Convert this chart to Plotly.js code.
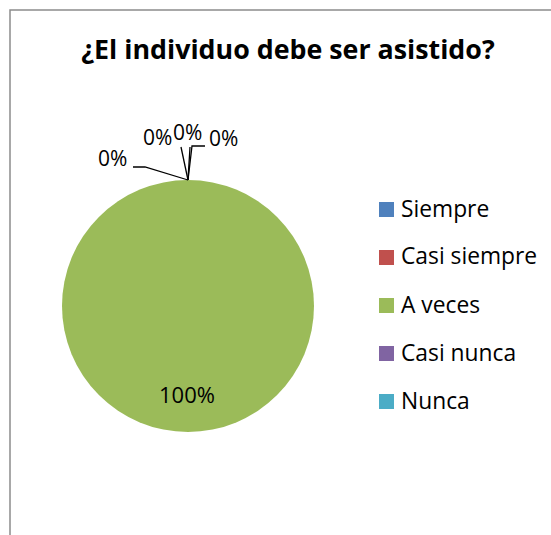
<!DOCTYPE html>
<html>
<head>
<meta charset="utf-8">
<script src="https://cdn.plot.ly/plotly-3.0.1.min.js"></script>
<style>html,body{margin:0;padding:0;background:#fff;}#chart{width:551px;height:535px;}</style>
</head>
<body>
<div id="chart"></div>
<script>
const chartTitle = '¿El individuo debe ser asistido?';
const categories = ['Siempre', 'Casi siempre', 'A veces', 'Casi nunca', 'Nunca'];
const values = [0, 0, 100, 0, 0];
const colors = ['#4F81BD', '#C0504D', '#9BBB59', '#8064A2', '#4BACC6'];

const W = 551, H = 535;
const FONT = '"Open Sans", "Noto Sans", sans-serif';
const px = x => x / W;
const py = y => 1 - y / H;

// pie geometry (pixels)
const pieLeft = 62, pieRight = 314, pieTop = 180, pieBottom = 432;
const cx = (pieLeft + pieRight) / 2, r = (pieRight - pieLeft) / 2;

const total = values.reduce((a, b) => a + b, 0);
const pct = v => Math.round(v / total * 100) + '%';

const data = [{
  type: 'pie',
  labels: categories,
  values: values,
  marker: {colors: colors, line: {width: 0}},
  sort: false,
  direction: 'clockwise',
  rotation: 0,
  textinfo: 'none',
  hoverinfo: 'label+percent',
  showlegend: false,
  domain: {x: [px(pieLeft), px(pieRight)], y: [py(pieBottom), py(pieTop)]}
}];

const annotations = [];
const shapes = [];

// outer chart frame
shapes.push({type: 'rect', xref: 'paper', yref: 'paper', x0: px(10), x1: 1.2, y0: -0.2, y1: py(10),
  line: {color: '#8c8c8c', width: 1.5}, fillcolor: 'rgba(0,0,0,0)', layer: 'below'});

// zero-slice labels with leader lines (outside, at top of pie)
const apex = [cx, pieTop];
const zeroLabelSpots = [
  {pos: [112, 158], path: [[133, 167], [145, 167]]},
  {pos: [157.5, 137], path: [[181, 147]]},
  {pos: [187, 132], path: [[190, 147]]},
  {pos: [223, 138], path: [[205, 146], [192, 146]]}
];
let zi = 0;
values.forEach((v, i) => {
  if (v / total >= 0.5) {
    annotations.push({xref: 'paper', yref: 'paper', x: px(cx - 1), y: py(394), text: pct(v),
      showarrow: false, xanchor: 'center', yanchor: 'middle', font: {family: FONT, size: 22, color: '#000'}});
  } else if (zi < zeroLabelSpots.length) {
    const s = zeroLabelSpots[zi++];
    annotations.push({xref: 'paper', yref: 'paper', x: px(s.pos[0]), y: py(s.pos[1]), text: pct(v),
      showarrow: false, xanchor: 'center', yanchor: 'middle', font: {family: FONT, size: 21, color: '#000'}});
    const pts = s.path.concat([apex]);
    const d = pts.map((p, k) => (k ? 'L' : 'M') + px(p[0]).toFixed(5) + ',' + py(p[1]).toFixed(5)).join(' ');
    shapes.push({type: 'path', xref: 'paper', yref: 'paper', path: d, line: {color: '#000', width: 1.3}});
  }
});

// legend
const legX = 379, legY0 = 209.5, legStep = 48, sw = 15;
categories.forEach((c, i) => {
  const yc = legY0 + i * legStep;
  shapes.push({type: 'rect', xref: 'paper', yref: 'paper', x0: px(legX), x1: px(legX + sw),
    y0: py(yc + sw / 2), y1: py(yc - sw / 2), fillcolor: colors[i], line: {width: 0}});
  annotations.push({xref: 'paper', yref: 'paper', x: px(legX + sw + 5), y: py(yc - 1.5), text: c,
    showarrow: false, xanchor: 'left', yanchor: 'middle', font: {family: FONT, size: 22.8, color: '#000'}});
});

const layout = {
  width: W, height: H,
  margin: {l: 0, r: 0, t: 0, b: 0},
  paper_bgcolor: '#fff',
  title: {text: '<b>' + chartTitle + '</b>', x: px(288), y: py(50), xanchor: 'center', yanchor: 'middle',
    xref: 'paper', yref: 'paper', font: {family: FONT, size: 26.8, color: '#000'}},
  annotations: annotations,
  shapes: shapes
};

Plotly.newPlot('chart', data, layout, {displayModeBar: false, staticPlot: true});
</script>
</body>
</html>
